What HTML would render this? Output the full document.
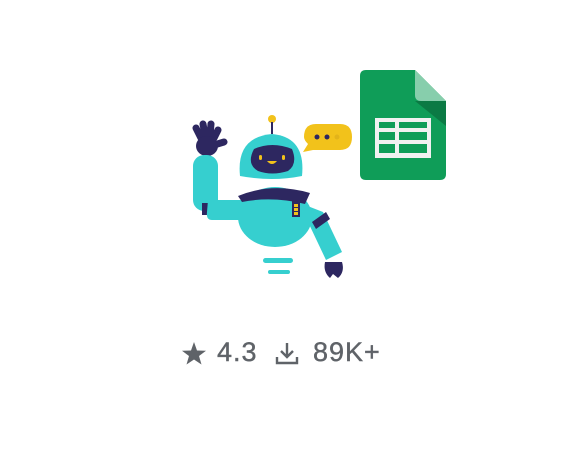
<!DOCTYPE html>
<html><head><style>
html,body{margin:0;padding:0;background:#fff;width:573px;height:454px;overflow:hidden}
.t{position:absolute;top:336px;font-family:"Liberation Sans",sans-serif;font-size:27px;color:#5f6368;line-height:32px;letter-spacing:1px;-webkit-text-stroke:0.4px #5f6368}
</style></head><body>
<svg width="573" height="454" style="position:absolute;left:0;top:0">
<path d="M366,70 H415 L446,101 V174 Q446,180 440,180 H366 Q360,180 360,174 V76 Q360,70 366,70Z" fill="#0f9d58"/>
<path d="M415,70 L446,101 H421 Q415,101 415,95Z" fill="#87ceac"/>
<path d="M415,101 L446,101 V126Z" fill="#0b7a44"/>
<rect x="375" y="118" width="56" height="40" fill="#f1f1f1"/>
<g fill="#0f9d58">
<rect x="379" y="122" width="16" height="6"/><rect x="399" y="122" width="28" height="6"/>
<rect x="379" y="132" width="16" height="8"/><rect x="399" y="132" width="28" height="8"/>
<rect x="379" y="144" width="16" height="9"/><rect x="399" y="144" width="28" height="9"/>
</g>
<path d="M316,124 H340 Q352,124 352,137 Q352,150 340,150 H313 L303,152 L308,144 Q304,140 304,137 Q304,124 316,124Z" fill="#f2c21b"/>
<circle cx="317" cy="137" r="2.5" fill="#2d2760"/><circle cx="327" cy="137" r="2.5" fill="#2d2760"/><circle cx="337" cy="137" r="2.5" fill="#e2b31a"/>
<circle cx="272" cy="119" r="4" fill="#f2c21b"/><rect x="271" y="122" width="2" height="12" fill="#2d2760"/>
<path d="M201,138 L196,128 M205,135 L203,124 M210,135 L211,124 M214,138 L218,130 M214,145 L224,142" stroke="#2d2760" stroke-width="7" stroke-linecap="round"/>
<ellipse cx="207" cy="146" rx="11" ry="10" fill="#2d2760"/>
<rect x="193" y="155" width="25" height="56" rx="11" fill="#36cfcf"/>
<rect x="202" y="203" width="10" height="12" fill="#2d2760"/>
<path d="M208,200 H248 V220 H212 Q206,220 207,212Z" fill="#36cfcf"/>
<path d="M305,205 L323,212 L342,252 L326,260 L308,222Z" fill="#36cfcf"/>
<path d="M312,222 L326,212 L330,219 L316,229Z" fill="#2d2760"/>
<path d="M325,262 H342 Q345,272 338,278 L333,274 L330,278 Q323,272 325,262Z" fill="#2d2760"/>
<ellipse cx="275" cy="217" rx="37" ry="30" fill="#36cfcf"/>
<path d="M238,196 Q272,182 310,193 L305,204 Q272,196 242,202Z" fill="#2d2760"/>
<rect x="292" y="201" width="8" height="16" fill="#2d2760"/><rect x="294" y="204" width="4" height="3" fill="#f2c21b"/><rect x="294" y="208" width="4" height="3" fill="#f2c21b"/><rect x="294" y="212" width="4" height="3" fill="#f2c21b"/>
<rect x="263" y="258" width="30" height="5" rx="2.5" fill="#36cfcf"/>
<rect x="268" y="270" width="22" height="4" rx="2" fill="#36cfcf"/>
<path d="M240,176 Q236,137 272,134 Q306,137 302,176 Q272,182 240,176Z" fill="#36cfcf"/>
<path d="M254,149 Q272,141 292,149 Q298,164 288,171 Q272,176 258,171 Q246,164 254,149Z" fill="#2d2760"/>
<rect x="259" y="155" width="3" height="5" rx="1.5" fill="#f2c21b"/><rect x="282" y="155" width="3" height="5" rx="1.5" fill="#f2c21b"/>
<path d="M267,161 Q272,167 277,161Z" fill="#f2c21b"/>
<path d="M194,342 L197,350.5 L206,350.8 L199,356 L201.5,364.5 L194,359.5 L186.5,364.5 L189,356 L182,350.8 L191,350.5Z" fill="#5f6368"/>
<path d="M287,343 V357 M281,351 L287,357 L293,351 M277,357 V363 H297 V357" stroke="#5f6368" stroke-width="2.4" fill="none"/>
</svg>
<div class="t" style="left:217px">4.3</div>
<div class="t" style="left:313px">89K+</div>
</body></html>
